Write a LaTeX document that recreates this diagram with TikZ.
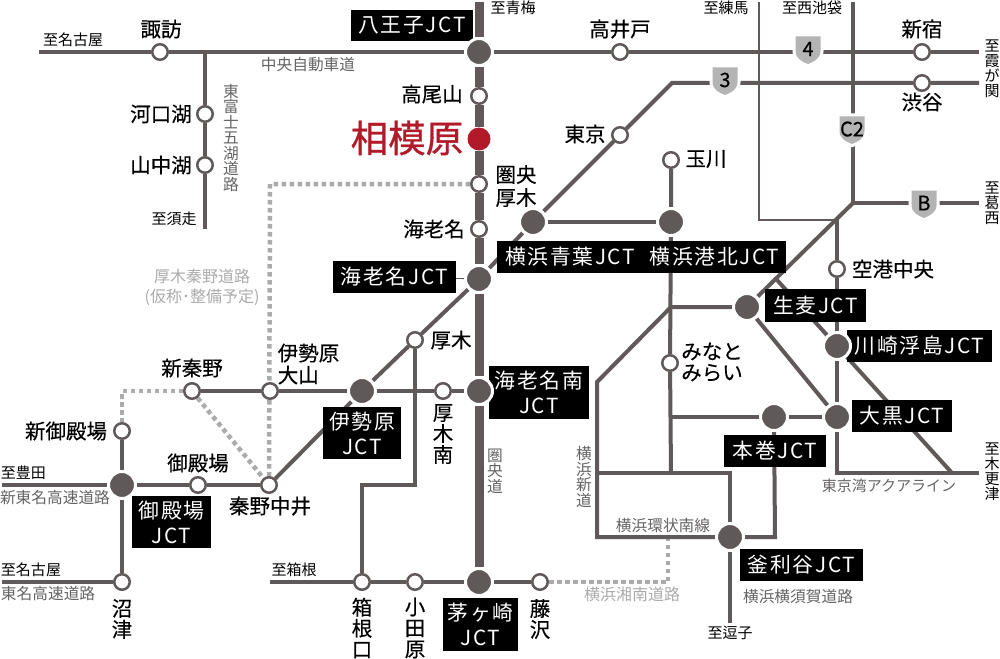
\documentclass[tikz,border=0pt]{standalone}
\usepackage{fontspec}
\setmainfont{Noto Sans CJK JP}
\newfontfamily\jpr{Noto Sans CJK JP}
\newfontfamily\jpm[FakeBold=0.35]{Noto Sans CJK JP}
\newfontfamily\jpb[LetterSpace=8]{Noto Sans CJK JP}
\newfontfamily\jpred[FakeBold=0.8]{Noto Sans CJK JP}
\usetikzlibrary{calc}
\pgfdeclarelayer{bg}
\pgfsetlayers{bg,main}
\definecolor{road}{HTML}{5F5A59}
\definecolor{roadtxt}{HTML}{666363}
\definecolor{plan}{HTML}{ABABAB}
\definecolor{shieldc}{HTML}{B4B4B4}
\definecolor{sagami}{HTML}{B21A2A}
\tikzset{
  x=1pt,y=-1pt,
  tx/.style={inner sep=0pt,outer sep=0pt},
  lab/.style={tx,font=\jpm\fontsize{20.5}{21}\selectfont,text=black,align=center},
  to/.style={tx,font=\jpr\fontsize{15}{15}\selectfont,text=black,align=center},
  rn/.style={tx,font=\jpr\fontsize{15.7}{15.5}\selectfont,text=roadtxt,align=center},
  pn/.style={tx,font=\jpr\fontsize{16}{20}\selectfont,text=plan,align=center},
  jbox/.style={tx,fill=black,text=white,font=\jpb\fontsize{20.8}{25}\selectfont,align=center},
  st/.style={circle,fill=white,draw=road,line width=2.5pt,minimum size=15.5pt,inner sep=0pt},
  jct/.style={circle,fill=road,draw=white,line width=3pt,minimum size=27pt,inner sep=0pt},
  hub/.style={circle,fill=sagami,draw=none,minimum size=23pt,inner sep=0pt},
  rdln/.style={draw=road,line width=4pt},
  mainln/.style={draw=road,line width=9pt},
  thinln/.style={draw=road,line width=1.4pt},
  planln/.style={draw=plan,line width=4.5pt,dash pattern=on 4.5pt off 3.5pt},
  shieldpic/.pic={
    \path[fill=shieldc,draw=white,line width=6pt] (-12.5,-13.5) -- (12.5,-13.5) -- (12.5,1)
      .. controls (12.5,9) and (5,12) .. (0,14) .. controls (-5,12) and (-12.5,9) .. (-12.5,1) -- cycle;
    \path[fill=shieldc] (-12.5,-13.5) -- (12.5,-13.5) -- (12.5,1)
      .. controls (12.5,9) and (5,12) .. (0,14) .. controls (-5,12) and (-12.5,9) .. (-12.5,1) -- cycle;
    \node[tx,font=\jpm\fontsize{20}{20}\selectfont,text=black] at (0,-1) {#1};
  }
}
\begin{document}
\begin{tikzpicture}
\useasboundingbox (0,0) rectangle (1000,658);

% ---- black labels
\node[jbox,minimum width=122pt,minimum height=31pt] (bHachioji) at (412,25.5) {八王子JCT};
\node[jbox,minimum width=123pt,minimum height=32pt] (bEbina) at (394.5,277) {海老名JCT};
\node[jbox,minimum width=146pt,minimum height=32pt] (bAoba) at (570,257) {横浜青葉JCT};
\node[jbox,minimum width=143pt,minimum height=32pt] (bKohoku) at (714.5,257) {横浜港北JCT};
\node[jbox,minimum width=101pt,minimum height=33pt] (bNamamugi) at (815.5,305.5) {生麦JCT};
\node[jbox,minimum width=145pt,minimum height=32pt] (bUkishima) at (919.5,346) {川崎浮島JCT};
\node[jbox,minimum width=100pt,minimum height=32pt] (bDaikoku) at (902,416) {大黒JCT};
\node[jbox,minimum width=102pt,minimum height=32pt] (bHonmoku) at (775,451) {本巻JCT};
\node[jbox,minimum width=123pt,minimum height=32pt] (bKamariya) at (801.5,565) {釜利谷JCT};
\node[jbox,minimum width=75pt,minimum height=53pt] (bChigasaki) at (480.5,624.5) {茅ヶ崎\\JCT};
\node[jbox,minimum width=100pt,minimum height=53pt] (bEbinaS) at (539,392.5) {海老名南\\JCT};
\node[jbox,minimum width=78pt,minimum height=52pt] (bIsehara) at (362,433) {伊勢原\\JCT};
\node[jbox,minimum width=79pt,minimum height=52pt] (bGotemba) at (171.5,522) {御殿場\\JCT};

% ---- free ends and bends
\coordinate (mTop) at (479,2);
\coordinate (cWest) at (39,52);
\coordinate (cEast) at (979,52);
\coordinate (fJ) at (205,52);
\coordinate (fEnd) at (205,229);
\coordinate (r3bend) at (672,83);
\coordinate (r3East) at (979,83);
\coordinate (c2Top) at (853,2);
\coordinate (c2J) at (853,203);
\coordinate (bEast) at (979,203);
\coordinate (nerimaTop) at (759,2);
\coordinate (nerimaBend) at (759,220);
\coordinate (aqJ) at (837,220);
\coordinate (aqBend) at (837,473);
\coordinate (aqEast) at (979,473);
\coordinate (diag2a) at (777,280);
\coordinate (diag2b) at (952,473);
\coordinate (yokoA) at (671,307);
\coordinate (yokoB) at (597,382);
\coordinate (yokoC) at (597,537);
\coordinate (yokoD) at (597,473);
\coordinate (yokoE) at (730,473);
\coordinate (tamaEnd) at (671,473);
\coordinate (honJ) at (671,417);
\coordinate (honBend) at (775,537);
\coordinate (zushi) at (730,623);
\coordinate (tomeiW) at (2,582);
\coordinate (shinW) at (2,485);
\coordinate (hakoneW) at (270,582);
\coordinate (atBend1) at (415,485);
\coordinate (atBend2) at (362,485);
\coordinate (plA) at (270,184);
\coordinate (plB) at (122,391);
\coordinate (plC) at (668,582);
\coordinate (plD) at (668,537);

% ---- stations
\node[jct] (nHachioji) at (479,52) {};
\node[st]  (nTakao) at (479,96) {};
\node[hub] (nSagami) at (479,139) {};
\node[st]  (nKenoh) at (479,184) {};
\node[st]  (nEbina) at (479,229) {};
\node[jct] (nEbinaJ) at (479,279) {};
\node[jct] (nEbinaS) at (479,391) {};
\node[jct] (nChigasaki) at (479,582) {};
\node[st]  (nSuwa) at (160,52) {};
\node[st]  (nKawaguchi) at (205,114) {};
\node[st]  (nYamanaka) at (205,165) {};
\node[st]  (nTakaido) at (620,52) {};
\node[st]  (nShinjuku) at (922,52) {};
\node[st]  (nShibuya) at (922,83) {};
\node[st]  (nTokyo) at (620,135) {};
\node[st]  (nTamagawa) at (671,160) {};
\node[jct] (nAoba) at (533,222) {};
\node[jct] (nKohoku) at (671,222) {};
\node[st]  (nKuko) at (837,269) {};
\node[jct] (nNamamugi) at (747,307) {};
\node[jct] (nUkishima) at (837,346) {};
\node[jct] (nDaikoku) at (837,417) {};
\node[jct] (nHonmoku) at (774,417) {};
\node[st]  (nMinato) at (670,363) {};
\node[jct] (nKamariya) at (730,537) {};
\node[st]  (nAtsugi) at (415,340) {};
\node[st]  (nAtsugiS) at (443,391) {};
\node[jct] (nIsehara) at (362,391) {};
\node[st]  (nOyama) at (270,391) {};
\node[st]  (nHadano) at (192,391) {};
\node[st]  (nNakai) at (269,485) {};
\node[st]  (nGotemba) at (198,485) {};
\node[jct] (nGotembaJ) at (122,485) {};
\node[st]  (nShinGotemba) at (122,431) {};
\node[st]  (nNumazu) at (122,582) {};
\node[st]  (nHakone) at (362,582) {};
\node[st]  (nOdawara) at (415,582) {};
\node[st]  (nFujisawa) at (540,582) {};

% ---- shields
\pic at (808,50) {shieldpic={4}};
\pic at (725,81) {shieldpic={3}};
\pic at (852,130) {shieldpic={C2}};
\pic at (924,204) {shieldpic={B}};

% ---- connectors
\begin{pgfonlayer}{bg}
\path[planln] (nKenoh) -- (plA) -- (nNakai);
\path[planln] (nHadano) -- (plB) -- (nShinGotemba);
\path[planln] (nHadano) -- (nNakai);
\path[planln] (nFujisawa) -- (plC) -- (plD);
\path[thinln] (nerimaTop) -- (nerimaBend) -- (aqJ);
\path[mainln] (mTop) -- (nHachioji) -- (nTakao) -- (nSagami) -- (nKenoh) -- (nEbina) -- (nEbinaJ) -- (nEbinaS) -- (nChigasaki);
\path[rdln] (cWest) -- (nSuwa) -- (fJ) -- (nHachioji) -- (nTakaido) -- (nShinjuku) -- (cEast);
\path[rdln] (fJ) -- (nKawaguchi) -- (nYamanaka) -- (fEnd);
\path[rdln] (nNakai) -- (nIsehara) -- (nAtsugi) -- (nEbinaJ) -- (nAoba) -- (nTokyo) -- (r3bend) -- (nShibuya) -- (r3East);
\path[rdln] (nAoba) -- (nKohoku);
\path[rdln] (nTamagawa) -- (nKohoku) -- (nMinato) -- (tamaEnd);
\path[rdln] (c2Top) -- (c2J) -- (bEast);
\path[rdln] (c2J) -- (nNamamugi) -- (nDaikoku);
\path[rdln] (aqJ) -- (nKuko) -- (nUkishima) -- (nDaikoku) -- (aqBend) -- (aqEast);
\path[rdln] (diag2a) -- (diag2b);
\path[rdln] (nNamamugi) -- (yokoA) -- (yokoB) -- (yokoC) -- (nKamariya) -- (honBend) -- (nHonmoku);
\path[rdln] (yokoD) -- (yokoE) -- (nKamariya) -- (zushi);
\path[rdln] (honJ) -- (nHonmoku) -- (nDaikoku);
\path[rdln] (shinW) -- (nGotembaJ) -- (nGotemba) -- (nNakai);
\path[rdln] (tomeiW) -- (nNumazu) -- (nGotembaJ) -- (nShinGotemba);
\path[rdln] (nHadano) -- (nOyama) -- (nIsehara) -- (nAtsugiS) -- (nEbinaS);
\path[rdln] (nAtsugi) -- (atBend1) -- (atBend2) -- (nHakone);
\path[rdln] (hakoneW) -- (nHakone) -- (nOdawara) -- (nChigasaki) -- (nFujisawa);
\draw[draw=road,line width=.8pt] (bEbina) -- (nEbinaJ);
\end{pgfonlayer}

% ---- texts
\node[lab] (tSuwa) at (161,29) {諏訪};
\node[to] (tNagoya1) at (73,40) {至名古屋};
\node[to] (tOme) at (513,8) {至青梅};
\node[rn] (tChuo) at (308,65) {中央自動車道};
\node[rn] (tFuji) at (231,138) {東\\富\\士\\五\\湖\\道\\路};
\node[lab] (tKawaguchi) at (161,114) {河口湖};
\node[lab] (tYamanaka) at (161,165) {山中湖};
\node[to] (tSubashiri) at (174,219) {至須走};
\node[lab] (tTakao) at (432,94) {高尾山};
\node[tx,font=\jpred\fontsize{37.5}{37}\selectfont,text=sagami] (tSagami) at (407,138) {相模原};
\node[lab,align=left,font=\jpm\fontsize{20.5}{23}\selectfont] (tKenoh) at (516,186) {圏央\\厚木};
\node[lab] (tEbina) at (434,229) {海老名};
\node[pn] (tPlan) at (202,287) {厚木秦野道路\\(仮称･整備予定)};
\node[lab] (tTakaido) at (620,29) {高井戸};
\node[to] (tNerima) at (726,8) {至練馬};
\node[to] (tNishi) at (812,8) {至西池袋};
\node[lab] (tShinjuku) at (922,29) {新宿};
\node[to] (tKasumi) at (992,69) {至\\霞\\が\\関};
\node[lab] (tShibuya) at (922,102) {渋谷};
\node[lab] (tTokyo) at (585,134) {東京};
\node[lab] (tTama) at (706,159) {玉川};
\node[to] (tKasai) at (992,203) {至\\葛\\西};
\node[lab] (tKuko) at (893,269) {空港中央};
\node[lab,align=left,font=\jpm\fontsize{20.5}{21}\selectfont] (tMinato) at (712,362) {みなと\\みらい};
\node[lab] (tAtsugi) at (451,340) {厚木};
\node[lab,align=left,font=\jpm\fontsize{20.5}{22}\selectfont] (tOyama) at (308.5,364) {伊勢原\\大山};
\node[lab] (tHadano) at (192,368) {新秦野};
\node[lab] (tShinGot) at (66,431) {新御殿場};
\node[lab] (tGot) at (198,463) {御殿場};
\node[to,anchor=west] (tToyota) at (1,473) {至豊田};
\node[rn,anchor=west] (tShinTomei) at (0,498) {新東名高速道路};
\node[to,anchor=west] (tNagoya2) at (1,570) {至名古屋};
\node[rn,anchor=west] (tTomei) at (1,594) {東名高速道路};
\node[lab] (tNumazu) at (122,619) {沼\\津};
\node[lab] (tNakai) at (270,506) {秦野中井};
\node[lab] (tAtsugiS) at (443,434) {厚\\木\\南};
\node[rn] (tKen) at (495,471) {圏\\央\\道};
\node[lab] (tHakoneG) at (362,628) {箱\\根\\口};
\node[lab] (tOdawara) at (415,628) {小\\田\\原};
\node[to] (tHakoneT) at (294,570) {至箱根};
\node[lab] (tFujisawa) at (540,619) {藤\\沢};
\node[pn] (tShonan) at (632,594) {横浜湘南道路};
\node[rn] (tKanjo) at (663,526) {横浜環状南線};
\node[rn] (tShindo) at (584,477) {横\\浜\\新\\道};
\node[rn] (tYokosuka) at (798,597) {横浜横須賀道路};
\node[to] (tZushi) at (730,633) {至逗子};
\node[rn,font=\jpr\fontsize{15}{15}\selectfont] (tAqua) at (889,486) {東京湾アクアライン};
\node[to] (tKisara) at (992,472) {至\\木\\更\\津};
\end{tikzpicture}
\end{document}
